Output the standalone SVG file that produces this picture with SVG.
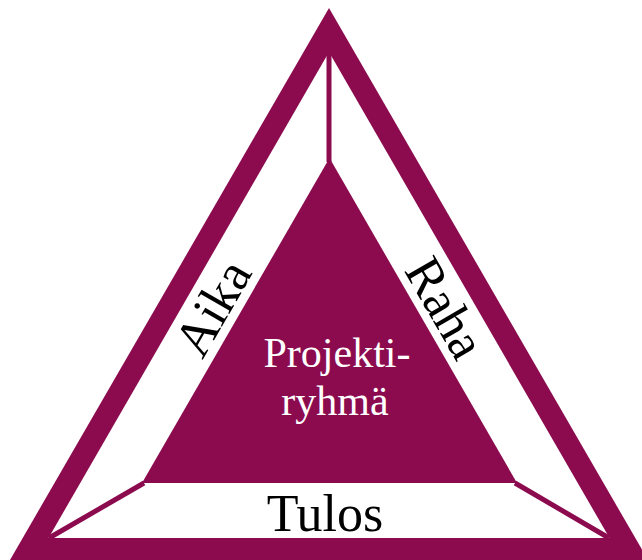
<svg xmlns="http://www.w3.org/2000/svg" width="642" height="560" viewBox="0 0 642 560">
  <style>
    .fill { fill: #8C0B4F; }
    .conn { stroke: #8C0B4F; stroke-width: 5; fill: none; }
    .lbl { font-family: "Liberation Serif", "DejaVu Serif", serif; fill: #000; text-anchor: middle; }
    .inner { font-family: "Liberation Serif", "DejaVu Serif", serif; fill: #fff; text-anchor: middle; font-size: 42px; }
  </style>
  <rect width="642" height="560" fill="#fff"/>
  <g id="frame">
    <polygon class="fill" points="329,8 10,560 648,560"/>
    <polygon fill="#fff" points="329,52 48.5,538 609.5,538"/>
  </g>
  <g id="connectors">
    <line class="conn" x1="329" y1="52" x2="329" y2="162"/>
    <line class="conn" x1="144" y1="483" x2="49" y2="538"/>
    <line class="conn" x1="515" y1="483" x2="609" y2="538"/>
  </g>
  <g id="projektiryhma">
    <polygon class="fill" points="329.5,158 142,483 517,483"/>
    <text class="inner" x="337" y="367">Projekti-</text>
    <text class="inner" x="335" y="415">ryhmä</text>
  </g>
  <g id="aika">
    <text class="lbl" font-size="52" transform="translate(213,308) rotate(-60)" y="17">Aika</text>
  </g>
  <g id="raha">
    <text class="lbl" font-size="52" transform="translate(445,308) rotate(60)" y="17">Raha</text>
  </g>
  <g id="tulos">
    <text class="lbl" font-size="52" x="325" y="531">Tulos</text>
  </g>
</svg>
